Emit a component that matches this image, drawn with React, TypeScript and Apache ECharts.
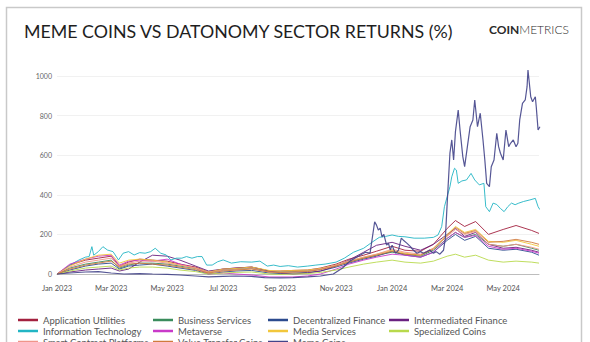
import React, { useEffect, useRef } from "react";
import * as echarts from "echarts";

const seriesNames = [
  "Application Utilities",
  "Business Services",
  "Decentralized Finance",
  "Intermediated Finance",
  "Information Technology",
  "Metaverse",
  "Media Services",
  "Specialized Coins",
  "Smart Contract Platforms",
  "Value Transfer Coins",
  "Meme Coins",
];

const seriesColors = [
  "#a3213f",
  "#3a8c5c",
  "#2c4b8e",
  "#6a2180",
  "#22b5c4",
  "#c93ac9",
  "#f2c73c",
  "#b8d94c",
  "#f0958a",
  "#d07a3c",
  "#43448a",
];

const xTickLabels = ["Jan 2023", "Mar 2023", "May 2023", "Jul 2023", "Sep 2023", "Nov 2023", "Jan 2024", "Mar 2024", "May 2024"];
const xTickDates = ["2023-01-01", "2023-03-01", "2023-05-01", "2023-07-01", "2023-09-01", "2023-11-01", "2024-01-01", "2024-03-01", "2024-05-01"];
const xRange = ["2023-01-01", "2024-06-09"];
const yTicks = [0, 200, 400, 600, 800, 1000];

const bundleDates = [
  "2023-01-01", "2023-01-15", "2023-02-01", "2023-02-15", "2023-03-01", "2023-03-10", "2023-03-20",
  "2023-04-01", "2023-04-15", "2023-05-01", "2023-05-15", "2023-06-01", "2023-06-15", "2023-07-01",
  "2023-07-15", "2023-08-01", "2023-08-20", "2023-09-01", "2023-09-15", "2023-10-01", "2023-10-15",
  "2023-11-01", "2023-11-15", "2023-12-01", "2023-12-15", "2024-01-01", "2024-01-15", "2024-02-01",
  "2024-02-15", "2024-03-01", "2024-03-10", "2024-03-20", "2024-04-01", "2024-04-15", "2024-05-01",
  "2024-05-15", "2024-06-01", "2024-06-09",
];

const applicationUtilities = [0, 45, 70, 80, 90, 40, 60, 75, 70, 65, 50, 35, 10, 25, 30, 35, 15, 15, 18, 20, 30, 50, 75, 95, 115, 140, 120, 115, 150, 230, 270, 240, 265, 200, 225, 245, 220, 205];
const businessServices = [0, 30, 50, 60, 70, 30, 45, 55, 55, 50, 40, 28, 8, 20, 25, 28, 12, 10, 12, 15, 25, 45, 60, 80, 95, 110, 100, 90, 120, 180, 210, 185, 200, 150, 140, 150, 130, 120];
const decentralizedFinance = [0, 20, 40, 50, 55, 25, 40, 45, 50, 40, 30, 18, 0, 10, 15, 18, 5, 2, 5, 8, 15, 35, 55, 75, 90, 115, 95, 85, 110, 170, 200, 170, 190, 130, 120, 125, 110, 95];
const intermediatedFinance = [0, 10, 20, 25, 30, 15, 25, 60, 95, 90, 70, 40, 15, 25, 30, 35, 15, 5, 0, 5, 15, 40, 70, 110, 145, 160, 140, 120, 150, 200, 230, 190, 210, 150, 130, 135, 120, 110];
const metaverse = [0, 50, 75, 90, 95, 45, 65, 70, 65, 75, 50, 30, 0, 5, 0, -5, -15, -15, -15, -10, 0, 25, 50, 70, 85, 100, 95, 85, 110, 180, 210, 185, 195, 140, 125, 130, 115, 105];
const mediaServices = [0, 40, 75, 95, 100, 55, 70, 75, 70, 60, 45, 30, 10, 25, 28, 35, 18, 15, 18, 20, 28, 45, 65, 85, 100, 120, 105, 95, 130, 200, 240, 210, 225, 165, 160, 170, 150, 140];
const specializedCoins = [0, 15, 30, 35, 40, 20, 30, 35, 35, 30, 20, 12, 0, 5, 8, 10, 0, -2, 0, 2, 8, 20, 35, 50, 60, 70, 60, 55, 65, 90, 100, 85, 95, 70, 60, 65, 60, 55];
const smartContractPlatforms = [0, 35, 60, 70, 80, 40, 55, 65, 65, 55, 45, 30, 8, 20, 22, 28, 10, 8, 10, 14, 25, 45, 65, 85, 100, 125, 110, 100, 130, 190, 225, 200, 215, 150, 140, 150, 135, 125];
const valueTransferCoins = [0, 25, 45, 55, 65, 35, 50, 55, 50, 45, 35, 22, 5, 15, 20, 25, 10, 8, 10, 12, 22, 40, 60, 80, 95, 115, 100, 95, 125, 195, 235, 205, 220, 160, 165, 175, 160, 150];

const itDates = [
  "2023-01-01", "2023-01-08", "2023-01-15", "2023-01-25", "2023-02-01", "2023-02-05", "2023-02-08", "2023-02-10",
  "2023-02-15", "2023-02-20", "2023-02-25", "2023-03-03", "2023-03-09", "2023-03-14", "2023-03-20", "2023-03-26",
  "2023-04-01", "2023-04-07", "2023-04-13", "2023-04-18", "2023-04-24", "2023-04-30", "2023-05-05", "2023-05-11",
  "2023-05-17", "2023-05-22", "2023-05-28", "2023-06-03", "2023-06-08", "2023-06-13", "2023-06-19", "2023-06-25",
  "2023-07-01", "2023-07-10", "2023-07-20", "2023-08-01", "2023-08-10", "2023-08-18", "2023-08-25", "2023-09-01",
  "2023-09-10", "2023-09-20", "2023-10-01", "2023-10-10", "2023-10-20", "2023-11-01", "2023-11-10", "2023-11-20",
  "2023-12-01", "2023-12-10", "2023-12-18", "2023-12-25", "2024-01-01", "2024-01-08", "2024-01-15", "2024-01-25",
  "2024-02-05", "2024-02-15", "2024-02-20", "2024-02-24", "2024-02-27", "2024-03-01", "2024-03-04", "2024-03-06",
  "2024-03-09", "2024-03-11", "2024-03-13", "2024-03-17", "2024-03-22", "2024-03-27", "2024-03-31", "2024-04-05",
  "2024-04-10", "2024-04-12", "2024-04-16", "2024-04-20", "2024-04-24", "2024-04-28", "2024-05-02", "2024-05-06",
  "2024-05-10", "2024-05-14", "2024-05-18", "2024-05-23", "2024-05-30", "2024-06-05", "2024-06-08", "2024-06-10",
];
const informationTechnology = [
  0, 20, 45, 71, 85, 88, 138, 95,
  113, 138, 121, 113, 71, 105, 113, 96,
  108, 105, 113, 130, 105, 96, 71, 80,
  80, 88, 80, 88, 88, 45, 45, 62,
  71, 55, 62, 60, 65, 40, 45, 38,
  42, 35, 40, 45, 50, 60, 80, 110,
  130, 160, 185, 190, 197, 190, 188, 181,
  181, 185, 197, 239, 340, 391, 441, 491,
  534, 525, 458, 470, 475, 508, 475, 450,
  458, 340, 315, 358, 351, 331, 315, 340,
  358, 350, 358, 366, 374, 382, 340, 325,
];

const memeDates = [
  "2023-01-01", "2023-01-15", "2023-02-01", "2023-02-15", "2023-03-01", "2023-03-15", "2023-04-01", "2023-04-15",
  "2023-05-01", "2023-05-15", "2023-06-01", "2023-06-15", "2023-07-01", "2023-07-15", "2023-08-01", "2023-08-15",
  "2023-09-01", "2023-09-15", "2023-10-01", "2023-10-15", "2023-10-29", "2023-11-08", "2023-11-16", "2023-11-25",
  "2023-12-03", "2023-12-08", "2023-12-13", "2023-12-15", "2023-12-17", "2023-12-19", "2023-12-21", "2023-12-23",
  "2023-12-26", "2023-12-28", "2023-12-30", "2024-01-01", "2024-01-03", "2024-01-05", "2024-01-08", "2024-01-11",
  "2024-01-13", "2024-01-17", "2024-01-21", "2024-01-24", "2024-01-28", "2024-02-01", "2024-02-04", "2024-02-08",
  "2024-02-11", "2024-02-15", "2024-02-18", "2024-02-22", "2024-02-26", "2024-02-28", "2024-03-01", "2024-03-04",
  "2024-03-06", "2024-03-08", "2024-03-10", "2024-03-13", "2024-03-15", "2024-03-18", "2024-03-20", "2024-03-23",
  "2024-03-26", "2024-03-29", "2024-03-31", "2024-04-03", "2024-04-06", "2024-04-09", "2024-04-11", "2024-04-13",
  "2024-04-16", "2024-04-18", "2024-04-21", "2024-04-24", "2024-04-26", "2024-04-28", "2024-05-01", "2024-05-04",
  "2024-05-07", "2024-05-09", "2024-05-12", "2024-05-15", "2024-05-17", "2024-05-19", "2024-05-22", "2024-05-25",
  "2024-05-27", "2024-05-28", "2024-05-31", "2024-06-02", "2024-06-05", "2024-06-06", "2024-06-08", "2024-06-10",
];
const memeCoins = [
  0, 5, 10, 12, 5, 0, 2, 0,
  -2, -5, -10, -15, -12, -10, -12, -18,
  -20, -18, -15, -10, 0, 30, 65, 90,
  110, 105, 264, 247, 222, 232, 188, 200,
  146, 156, 121, 146, 121, 105, 121, 181,
  172, 156, 138, 121, 105, 113, 105, 113,
  121, 105, 113, 100, 120, 180, 358, 611,
  677, 576, 719, 828, 727, 593, 542, 643,
  744, 778, 879, 744, 812, 677, 576, 458,
  441, 542, 576, 711, 643, 610, 576, 727,
  643, 660, 677, 643, 660, 778, 862, 879,
  946, 1030, 895, 870, 895, 845, 727, 744,
];

const bundleValues = [
  applicationUtilities,
  businessServices,
  decentralizedFinance,
  intermediatedFinance,
  null,
  metaverse,
  mediaServices,
  specializedCoins,
  smartContractPlatforms,
  valueTransferCoins,
  null,
];

const legendColumns = [
  ["Application Utilities", "Information Technology", "Smart Contract Platforms"],
  ["Business Services", "Metaverse", "Value Transfer Coins"],
  ["Decentralized Finance", "Media Services", "Meme Coins"],
  ["Intermediated Finance", "Specialized Coins"],
];
const legendLefts = [18, 153, 268, 389];

function toTs(s: string) {
  const [y, m, d] = s.split("-").map(Number);
  return Date.UTC(y, m - 1, d);
}

function pairs(dates: string[], values: number[]) {
  return dates.map((d, i) => [toTs(d), values[i]]);
}

export default function App() {
  const ref = useRef<HTMLDivElement>(null);
  useEffect(() => {
    if (!ref.current) return;
    const chart = echarts.init(ref.current, undefined, { renderer: "svg" });
    const font = "Lato, 'Noto Sans', sans-serif";

    const series: any[] = seriesNames.map((name, i) => {
      let data: any[];
      if (name === "Information Technology") data = pairs(itDates, informationTechnology);
      else if (name === "Meme Coins") data = pairs(memeDates, memeCoins);
      else data = pairs(bundleDates, bundleValues[i] as number[]);
      return {
        name,
        type: "line",
        data,
        symbol: "none",
        clip: false,
        color: seriesColors[i],
        lineStyle: { width: name === "Meme Coins" ? 1.2 : 1, color: seriesColors[i], opacity: 0.9 },
        emphasis: { disabled: true },
        z: name === "Meme Coins" ? 5 : 2,
      };
    });

    const tickTs = xTickDates.map(toTs);

    chart.setOption({
      animation: false,
      backgroundColor: "#ffffff",
      textStyle: { fontFamily: font },
      title: {
        text: "MEME COINS VS DATONOMY SECTOR RETURNS (%)",
        left: 19,
        top: 17,
        textStyle: { fontFamily: font, fontSize: 17.8, fontWeight: "normal", color: "#1e1e1e" },
      },
      graphic: [
        {
          type: "rect",
          shape: { x: 6.5, y: 7.5, width: 575, height: 400 },
          style: { fill: "none", stroke: "#c9c9c9", lineWidth: 1.5 },
          silent: true,
        },
        {
          type: "text",
          x: 569,
          y: 29,
          style: {
            text: "{b|COIN}{l|METRICS}",
            textAlign: "right",
            textVerticalAlign: "middle",
            rich: {
              b: { fontFamily: font, fontSize: 12, fontWeight: "bold", fill: "#2a2a2a" },
              l: { fontFamily: font, fontSize: 12, fontWeight: 300, fill: "#2a2a2a" },
            },
          },
          silent: true,
        },
      ],
      legend: legendColumns.map((col, i) => ({
        data: col,
        orient: "vertical",
        left: legendLefts[i],
        top: 314.5,
        height: 60,
        itemWidth: 20,
        itemHeight: 2.5,
        itemGap: 0,
        icon: "rect",
        padding: 0,
        selectedMode: false,
        textStyle: { fontFamily: font, fontSize: 9.5, color: "#555", lineHeight: 11 },
      })),
      grid: { left: 57, right: 51, top: 76, bottom: 68, containLabel: false },
      xAxis: {
        type: "value",
        min: toTs(xRange[0]),
        max: toTs(xRange[1]),
        axisLine: { show: true, lineStyle: { color: "#bdbdbd", width: 1 } },
        axisTick: { show: false },
        splitLine: { show: false },
        axisLabel: {
          customValues: tickTs,
          formatter: (v: number) => {
            const idx = tickTs.indexOf(v);
            return idx >= 0 ? xTickLabels[idx] : "";
          },
          fontFamily: font,
          fontSize: 7.5,
          color: "#555",
          margin: 10,
          hideOverlap: false,
        },
      },
      yAxis: {
        type: "value",
        min: yTicks[0],
        max: yTicks[yTicks.length - 1],
        interval: 200,
        axisLine: { show: false },
        axisTick: { show: false },
        splitLine: { show: true, lineStyle: { color: "#f1f1f1", width: 1 } },
        axisLabel: { fontFamily: font, fontSize: 7, color: "#666", margin: 5, formatter: (v: number) => String(v) },
      },
      series,
    });
    return () => chart.dispose();
  }, []);
  return (
    <div
      ref={ref}
      style={{ position: "fixed", left: 0, top: 0, width: 590, height: 342, background: "#fff" }}
    />
  );
}
